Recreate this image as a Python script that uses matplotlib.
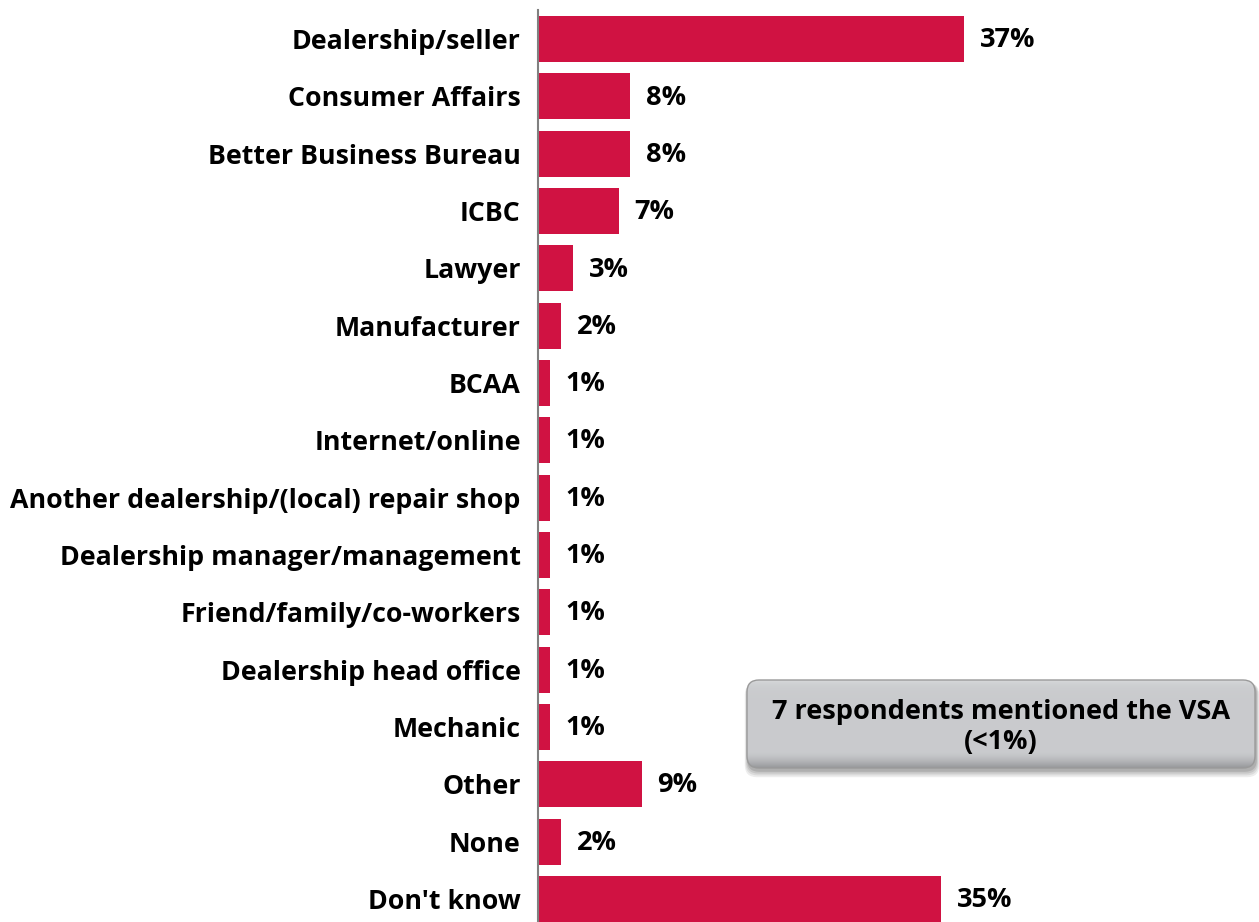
import matplotlib
matplotlib.use("Agg")
import matplotlib.pyplot as plt
import numpy as np
from matplotlib.patches import FancyBboxPatch

categories = ["Dealership/seller", "Consumer Affairs", "Better Business Bureau", "ICBC",
              "Lawyer", "Manufacturer", "BCAA", "Internet/online",
              "Another dealership/(local) repair shop", "Dealership manager/management",
              "Friend/family/co-workers", "Dealership head office", "Mechanic",
              "Other", "None", "Don't know"]
values = [37, 8, 8, 7, 3, 2, 1, 1, 1, 1, 1, 1, 1, 9, 2, 35]
value_labels = ["37%", "8%", "8%", "7%", "3%", "2%", "1%", "1%", "1%", "1%", "1%", "1%", "1%", "9%", "2%", "35%"]
note_text = "7 respondents mentioned the VSA\n(<1%)"

W, H = 1259, 922
fig = plt.figure(figsize=(W/100, H/100), dpi=100)
plt.rcParams['font.family'] = ['Open Sans', 'DejaVu Sans']

left = 538 / W
top_px = 10.4
bot_px = 927.6
ax = fig.add_axes([left, 1 - bot_px / H, 1 - left, (bot_px - top_px) / H])

y = np.arange(len(categories))
ax.barh(y, values, height=0.8, color="#D01242", zorder=2)
ax.set_ylim(len(categories) - 0.5, -0.5)
ax.set_xlim(0, (W - 538) / 11.5)

ax.set_yticks(y)
ax.set_yticklabels(categories, fontsize=19.3, fontweight="bold")
ax.tick_params(axis="y", length=0, pad=12.5)
ax.set_xticks([])
for s in ["top", "right", "bottom"]:
    ax.spines[s].set_visible(False)
ax.spines["left"].set_color("#808080")
ax.spines["left"].set_linewidth(1.5)

for yi, v, lab in zip(y, values, value_labels):
    ax.text(v + 1.4, yi + 0.02, lab, va="center", ha="left", fontsize=19.5, fontweight="bold")

# Note box with gradient and shadow
gax = fig.add_axes([0, 0, 1, 1], facecolor="none")
gax.set_axis_off()
gax.set_xlim(0, W); gax.set_ylim(H, 0)
bx0, by0, bx1, by1 = 747, 680, 1255, 768
rs = 12
for k, a in enumerate([0.10, 0.12, 0.15, 0.2]):
    off = 4 - k
    sh = FancyBboxPatch((bx0 + 1, by0 + off + 2), bx1 - bx0, by1 - by0,
                        boxstyle=f"round,pad={off * 0.8},rounding_size={rs}",
                        facecolor="#555555", edgecolor="none", alpha=a, zorder=4)
    gax.add_patch(sh)
t = np.linspace(0, 1, 200)
grad = 0.79 + 0.07 * np.exp(-t / 0.05) - 0.20 * np.clip((t - 0.82) / 0.18, 0, 1) ** 1.5
img = np.zeros((200, 2, 3))
img[:, :, 0] = grad[:, None]
img[:, :, 1] = grad[:, None] + 0.005
img[:, :, 2] = grad[:, None] + 0.015
img = np.clip(img, 0, 1)
im = gax.imshow(img, extent=[bx0, bx1, by1, by0], aspect="auto", origin="upper", zorder=6)
clip = FancyBboxPatch((bx0, by0), bx1 - bx0, by1 - by0, boxstyle=f"round,pad=0,rounding_size={rs}",
                      facecolor="none", edgecolor="#9a9a9a", linewidth=1.0, zorder=7)
gax.add_patch(clip)
im.set_clip_path(clip)
gax.text((bx0 + bx1) / 2, 727, note_text, ha="center", va="center",
         fontsize=19.5, fontweight="bold", linespacing=1.2, zorder=8, color="#000000")

fig.savefig("out.png", dpi=100)
